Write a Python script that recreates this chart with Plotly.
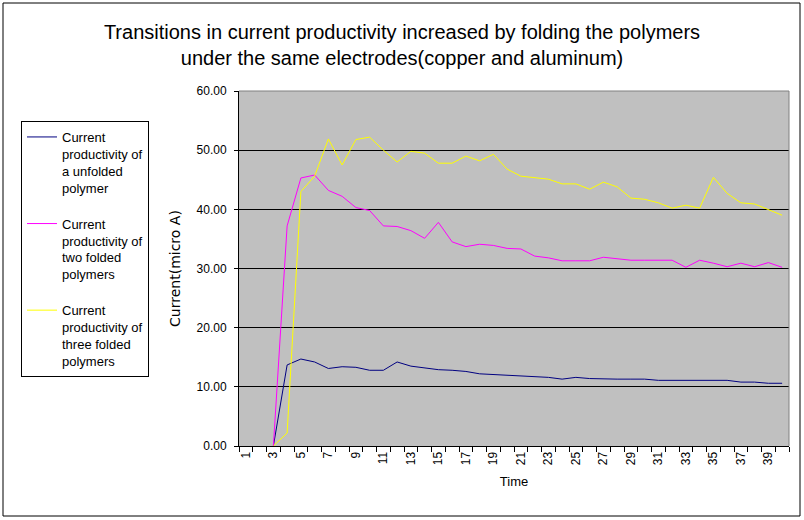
import plotly.graph_objects as go

time = list(range(1, 41))
unfolded = [None, None, 0.0, 13.7, 14.7, 14.2, 13.1, 13.4, 13.3, 12.8, 12.8, 14.2, 13.5, 13.2,
            12.9, 12.8, 12.6, 12.2, 12.1, 12.0, 11.8, 11.8, 11.6, 11.3, 11.6, 11.4, 11.3, 11.3,
            11.3, 11.3, 11.1, 11.1, 11.1, 11.1, 11.1, 11.1, 10.8, 10.8, 10.6, 10.6]
two_folded = [None, None, 0.0, 37.2, 45.3, 45.8, 43.2, 42.2, 40.3, 39.8, 37.2, 37.1, 36.4, 35.1,
              37.8, 34.5, 33.7, 34.1, 33.9, 33.4, 33.3, 32.1, 31.8, 31.3, 31.3, 31.3, 31.9, 31.6,
              31.4, 31.4, 31.4, 31.4, 30.2, 31.4, 30.9, 30.3, 30.9, 30.3, 31.0, 30.2]
three_folded = [None, None, 0.0, 2.2, 43.0, 45.6, 51.9, 47.5, 51.8, 52.2, 50.0, 48.0, 49.8, 49.5,
                47.8, 47.8, 49.0, 48.2, 49.3, 46.8, 45.6, 45.4, 45.1, 44.3, 44.3, 43.4, 44.6, 43.8,
                41.9, 41.7, 41.1, 40.2, 40.7, 40.2, 45.4, 42.7, 41.1, 40.9, 40.0, 39.0]
series_names = ["Current<br>productivity of<br>a unfolded<br>polymer",
                "Current<br>productivity of<br>two folded<br>polymers",
                "Current<br>productivity of<br>three folded<br>polymers"]
colors = ["#000080", "#FF00FF", "#FFFF00"]
x_labels = [str(t) for t in time if t % 2 == 1]
y_ticks = [0, 10, 20, 30, 40, 50, 60]

font = "Liberation Sans, DejaVu Sans, sans-serif"

fig = go.Figure()
for i, (vals, name, col) in enumerate(zip([unfolded, two_folded, three_folded], series_names, colors)):
    fig.add_trace(go.Scatter(x=time, y=vals, mode="lines", name=name, legendgroup=f"g{i}",
                             line=dict(color=col, width=1), connectgaps=False))

L, R, T, B = 239, 15, 91, 74
W, H = 804, 520
pw, ph = W - L - R, H - T - B

fig.update_layout(
    width=W, height=H,
    margin=dict(l=L, r=R, t=T, b=B),
    paper_bgcolor="white",
    plot_bgcolor="#C0C0C0",
    font=dict(family=font, size=12, color="black"),
    title=dict(text="Transitions in current productivity increased by folding the polymers<br>under the same electrodes(copper and aluminum)",
               x=402 / W, xanchor="center", y=1 - 39 / H, yanchor="middle",
               font=dict(size=20, family=font, color="black")),
    showlegend=True,
    legend=dict(x=(21 - L) / pw, xanchor="left", y=(H - B - 121) / ph, yanchor="top",
                bordercolor="black", borderwidth=1, bgcolor="white",
                font=dict(size=13, family=font), valign="top",
                traceorder="grouped", tracegroupgap=16, itemwidth=30),
    xaxis=dict(range=[0.5, 40.5], tickmode="array",
               tickvals=[t for t in time if t % 2 == 1], ticktext=x_labels,
               tickangle=-90, ticks="", showgrid=False, zeroline=False,
               showline=True, linecolor="black", linewidth=1,
               tickfont=dict(size=12),
               minor=dict(tickmode="array", tickvals=[t + 0.5 for t in range(0, 41)],
                          ticks="outside", ticklen=5, tickcolor="black", showgrid=False),
               title=dict(text="Time", font=dict(size=13), standoff=12)),
    yaxis=dict(range=[0, 60], tickmode="array", tickvals=y_ticks,
               ticktext=[f"{v:.2f}" for v in y_ticks],
               ticks="outside", ticklen=4, tickcolor="black", ticklabelstandoff=5,
               showgrid=True, gridcolor="black", gridwidth=1, zeroline=False,
               showline=True, linecolor="black", linewidth=1,
               tickfont=dict(size=12),
               title=dict(text="Current(micro A)", font=dict(size=14, family="DejaVu Sans"), standoff=12)),
    shapes=[
        dict(type="line", xref="paper", yref="paper", x0=0, x1=1, y0=1, y1=1,
             line=dict(color="#808080", width=1)),
        dict(type="line", xref="paper", yref="paper", x0=1, x1=1, y0=0, y1=1,
             line=dict(color="#808080", width=1)),
        dict(type="rect", xref="paper", yref="paper",
             x0=(3 - L) / pw, x1=(800 - L) / pw, y0=(H - B - 516) / ph, y1=(H - B - 3) / ph,
             line=dict(color="black", width=1), layer="below"),
    ],
)

fig.write_html("out.html")
